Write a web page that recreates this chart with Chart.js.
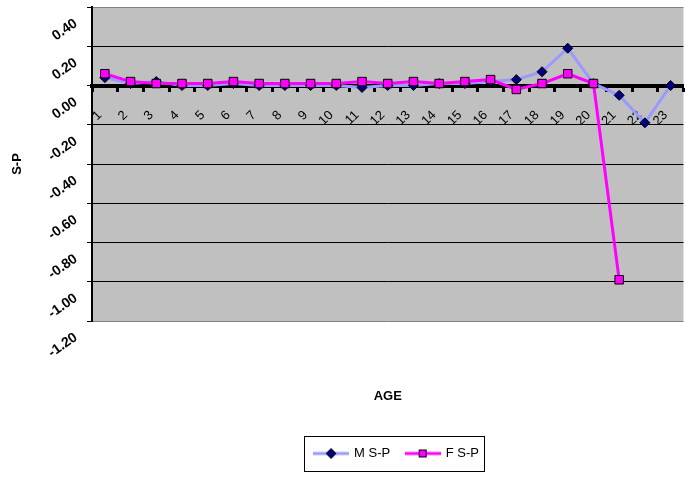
<!DOCTYPE html>
<html>
<head>
<meta charset="utf-8">
<title>S-P by age</title>
<script src="https://cdn.jsdelivr.net/npm/chart.js@4.4.0/dist/chart.umd.min.js"></script>
<style>
  html, body { margin: 0; padding: 0; background: #fff; overflow: hidden; }
  #wrap { width: 700px; height: 479px; }
</style>
</head>
<body>
<div id="wrap"><canvas id="chart"></canvas></div>
<script>
// values
const ages = ['1', '2', '3', '4', '5', '6', '7', '8', '9', '10', '11', '12',
              '13', '14', '15', '16', '17', '18', '19', '20', '21', '22', '23'];
const maleSP = [0.04, 0.01, 0.02, 0.00, 0.00, 0.01, 0.00, 0.00, 0.00, 0.00, -0.01, 0.00,
                0.00, 0.01, 0.01, 0.02, 0.03, 0.07, 0.19, 0.01, -0.05, -0.19, 0.00];
const femaleSP = [0.06, 0.02, 0.01, 0.01, 0.01, 0.02, 0.01, 0.01, 0.01, 0.01, 0.02, 0.01,
                  0.02, 0.01, 0.02, 0.03, -0.02, 0.01, 0.06, 0.01, -0.99, null, null];
const yMin = -1.2;
const yMax = 0.4;
const yStep = 0.2;

Chart.defaults.font.family = '"Liberation Sans", Arial, sans-serif';
Chart.defaults.font.size = 12;
Chart.defaults.color = '#000';

// little line+marker pictures for the legend
function legendIcon(lineColor, kind) {
    const c = document.createElement('canvas');
    c.width = 36;
    c.height = 12;
    const g = c.getContext('2d');
    g.strokeStyle = lineColor;
    g.lineWidth = 3;
    g.beginPath();
    g.moveTo(0, 6);
    g.lineTo(36, 6);
    g.stroke();
    g.lineWidth = 1;
    g.strokeStyle = '#000';
    if (kind === 'diamond') {
        g.fillStyle = '#000080';
        g.beginPath();
        g.moveTo(18, 1);
        g.lineTo(23, 6);
        g.lineTo(18, 11);
        g.lineTo(13, 6);
        g.closePath();
        g.fill();
        g.stroke();
    } else {
        g.fillStyle = '#ff00ff';
        g.fillRect(14.5, 2.5, 7, 7);
        g.strokeRect(14.5, 2.5, 7, 7);
    }
    return c;
}
const icons = [legendIcon('#ff00ff', 'square'), legendIcon('#9999ff', 'diamond')];

// grey plot area
const plotBg = {
    id: 'plotBg',
    beforeDraw(chart) {
        const { ctx, chartArea: a } = chart;
        ctx.save();
        ctx.fillStyle = '#c0c0c0';
        ctx.fillRect(a.left, a.top, a.width, a.height);
        ctx.restore();
    }
};

// frame round the legend, and nudge it a bit to the right like the original
const legendFrame = {
    id: 'legendFrame',
    afterLayout(chart) {
        chart.legend.left += 9;
        chart.legend.right += 9;
    },
    afterDraw(chart) {
        const hb = chart.legend.legendHitBoxes;
        if (!hb || !hb.length) return;
        const left = Math.min(...hb.map(b => b.left)) - 11;
        const right = Math.max(...hb.map(b => b.left + b.width)) + 5;
        const top = hb[0].top - 11;
        const bottom = hb[0].top + hb[0].height + 11;
        const ctx = chart.ctx;
        ctx.save();
        ctx.strokeStyle = '#000';
        ctx.lineWidth = 1;
        ctx.strokeRect(Math.round(left) + 0.5, Math.round(top) + 0.5,
                       Math.round(right - left), Math.round(bottom - top));
        ctx.restore();
    }
};

const ctx = document.getElementById('chart').getContext('2d');
new Chart(ctx, {
    type: 'line',
    data: {
        labels: ages,
        datasets: [{
            label: 'F S-P',
            data: femaleSP,
            borderColor: '#ff00ff',
            backgroundColor: '#ff00ff',
            borderWidth: 3,
            pointStyle: 'rect',
            pointRadius: 6,
            pointBackgroundColor: '#ff00ff',
            pointBorderColor: '#000',
            pointBorderWidth: 1
        }, {
            label: 'M S-P',
            data: maleSP,
            borderColor: '#9999ff',
            backgroundColor: '#9999ff',
            borderWidth: 3,
            pointStyle: 'rectRot',
            pointRadius: 5,
            pointBackgroundColor: '#000080',
            pointBorderColor: '#000',
            pointBorderWidth: 1
        }]
    },
    options: {
        responsive: true,
        maintainAspectRatio: false,
        animation: false,
        layout: { padding: { top: 4, right: 12, bottom: 9, left: 0 } },
        elements: { line: { tension: 0 } },
        scales: {
            x: {
                type: 'category',
                position: { y: 0 },
                offset: true,
                grid: {
                    offset: true,
                    drawOnChartArea: false,
                    drawTicks: true,
                    tickLength: 4,
                    tickWidth: 3,
                    tickColor: '#000'
                },
                border: { display: true, color: '#000', width: 4 },
                ticks: {
                    autoSkip: false,
                    minRotation: 45,
                    maxRotation: 45,
                    padding: 18,
                    labelOffset: -5,
                    font: { size: 13 }
                }
            },
            xAge: {
                type: 'category',
                position: 'bottom',
                offset: true,
                ticks: { display: false },
                grid: { display: false },
                border: { display: false },
                title: {
                    display: true,
                    text: 'AGE',
                    font: { size: 13, weight: 'bold' },
                    padding: { top: 0, bottom: 27 }
                },
                afterFit(s) { s.height = 110; }
            },
            y: {
                min: yMin,
                max: yMax,
                ticks: {
                    stepSize: yStep,
                    minRotation: 35,
                    maxRotation: 35,
                    labelOffset: 15,
                    padding: 11,
                    font: { size: 14, weight: 'bold' },
                    callback: v => Number(v).toFixed(2)
                },
                grid: {
                    color: c => (Math.abs(c.tick.value - yMax) < 1e-6 || Math.abs(c.tick.value - yMin) < 1e-6) ? '#808080' : '#000',
                    lineWidth: 1,
                    tickLength: 5,
                    tickColor: '#000'
                },
                border: { color: '#000', width: 2 },
                title: {
                    display: true,
                    text: 'S-P',
                    font: { size: 13, weight: 'bold' },
                    padding: { top: 10, bottom: 0 }
                },
                afterFit(s) {
                    s.width = 92;
                    s.paddingTop = 0;
                    s.paddingBottom = 0;
                }
            }
        },
        plugins: {
            legend: {
                position: 'bottom',
                fullSize: false,
                reverse: true,
                labels: {
                    usePointStyle: true,
                    pointStyleWidth: 33,
                    padding: 16,
                    font: { size: 13 },
                    generateLabels(chart) {
                        const items = Chart.defaults.plugins.legend.labels.generateLabels(chart);
                        items.forEach(it => { it.pointStyle = icons[it.datasetIndex]; });
                        return items;
                    }
                }
            },
            tooltip: { enabled: false }
        }
    },
    plugins: [plotBg, legendFrame]
});
</script>
</body>
</html>
